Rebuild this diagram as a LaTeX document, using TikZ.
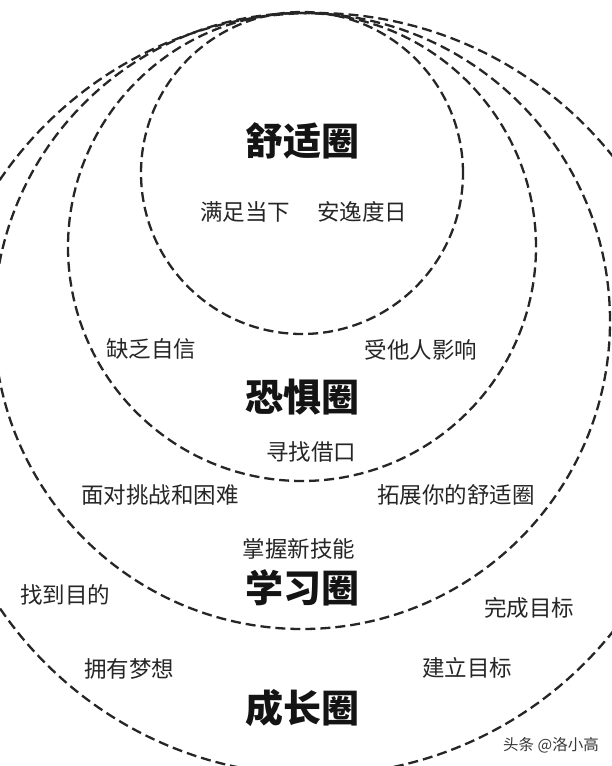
\documentclass[tikz,border=0pt]{standalone}
\usepackage{fontspec}
\newfontfamily\cjk{Noto Sans CJK SC}
\begin{document}
\begin{tikzpicture}[x=1pt,y=-1pt,
  zone/.style={draw=black!85, line width=2.3pt, dash pattern=on 10pt off 5pt, circle, inner sep=0pt},
  title/.style={font=\cjk\bfseries\fontsize{38}{40}\selectfont, text=black!92, inner sep=0pt},
  lbl/.style={font=\cjk\fontsize{22.5}{24}\selectfont, text=black!85, inner sep=0pt},
  wmark/.style={font=\cjk\fontsize{15.5}{17}\selectfont, text=black!78, inner sep=0pt}]
\useasboundingbox (0,0) rectangle (612,766);
\fill[white] (0,0) rectangle (612,766);
\clip (0,0) rectangle (612,766);
% zones
\node[zone, minimum size=322pt] (comfort) at (302,173) {};
\node[zone, minimum size=468pt] (fear) at (302,247) {};
\node[zone, minimum size=616pt] (learn) at (302,321) {};
\node[zone, minimum size=762pt] (grow) at (315,394) {};
% titles
\node[title] (t1) at (302,141) {舒适圈};
\node[title] (t2) at (302,397) {恐惧圈};
\node[title] (t3) at (302,588) {学习圈};
\node[title] (t4) at (302,708) {成长圈};
% labels
\node[lbl] (a1) at (245,212) {满足当下};
\node[lbl] (a2) at (362,212) {安逸度日};
\node[lbl] (b1) at (151,349) {缺乏自信};
\node[lbl] (b2) at (421,350) {受他人影响};
\node[lbl] (b3) at (311,452) {寻找借口};
\node[lbl] (c1) at (160,495) {面对挑战和困难};
\node[lbl] (c2) at (456,495) {拓展你的舒适圈};
\node[lbl] (c3) at (299,549) {掌握新技能};
\node[lbl] (d1) at (65,595) {找到目的};
\node[lbl] (d2) at (529,608) {完成目标};
\node[lbl] (d3) at (129,669) {拥有梦想};
\node[lbl] (d4) at (467,668) {建立目标};
\node[wmark] (w) at (551,745) {头条 @洛小高};
\end{tikzpicture}
\end{document}
